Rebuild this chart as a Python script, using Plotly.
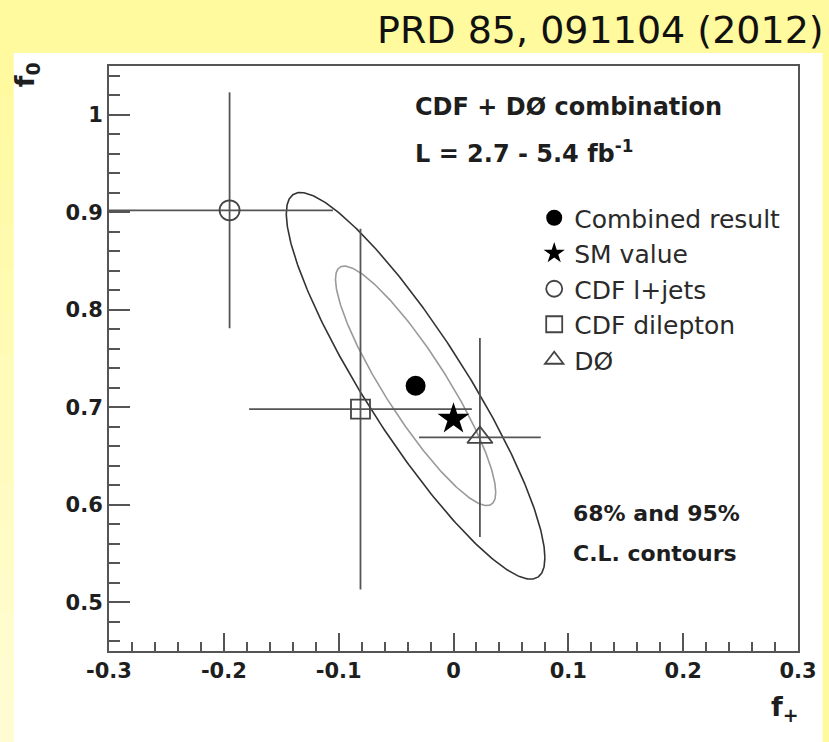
import numpy as np
import plotly.graph_objects as go

# ---------------- data ----------------
# combined result and its uncertainties / correlation
comb_fplus = [-0.033]
comb_f0 = [0.722]
comb_sig_fplus = 0.046
comb_sig_f0 = 0.081
comb_rho = -0.89
cl_labels = ["68%", "95%"]
cl_dchi2 = [2.30, 5.99]          # 2D delta-chi2 for 68% and 95% C.L.

sm_fplus = [0.0]
sm_f0 = [0.688]

ljets_fplus = [-0.195]
ljets_f0 = [0.902]
ljets_fplus_err_plus = [0.090]
ljets_fplus_err_minus = [0.120]
ljets_f0_err = [0.121]

dil_fplus = [-0.081]
dil_f0 = [0.698]
dil_fplus_err = [0.097]
dil_f0_err = [0.185]

d0_fplus = [0.023]
d0_f0 = [0.669]
d0_fplus_err = [0.053]
d0_f0_err = [0.102]

x_tickvals = [-0.3, -0.2, -0.1, 0.0, 0.1, 0.2, 0.3]
x_ticktext = ["-0.3", "-0.2", "-0.1", "0", "0.1", "0.2", "0.3"]
y_tickvals = [0.5, 0.6, 0.7, 0.8, 0.9, 1.0]
y_ticktext = ["0.5", "0.6", "0.7", "0.8", "0.9", "1"]

# ---------------- figure ----------------
W, H = 829, 742
L, R, T, B = 109, 20, 66, 91
pw, ph = W - L - R, H - T - B

def px_x(px):
    return (px - L) / pw

def px_y(py):
    return (H - B - py) / ph

FONT = "DejaVu Sans, Verdana, sans-serif"
INK = "#1e1e1e"
LINE = "#555555"

fig = go.Figure()

# confidence-level ellipses around the combined result
cov = np.array([[comb_sig_fplus**2, comb_rho * comb_sig_fplus * comb_sig_f0],
                [comb_rho * comb_sig_fplus * comb_sig_f0, comb_sig_f0**2]])
chol = np.linalg.cholesky(cov)
t = np.linspace(0, 2 * np.pi, 361)
circ = np.vstack([np.cos(t), np.sin(t)])
ell_colors = ["#9a9a9a", "#333333"]
for lab, q, col in zip(cl_labels, cl_dchi2, ell_colors):
    pts = chol @ circ * np.sqrt(q)
    fig.add_trace(go.Scatter(
        x=comb_fplus[0] + pts[0], y=comb_f0[0] + pts[1],
        mode="lines", line=dict(color=col, width=1.6),
        showlegend=False, hoverinfo="skip", name=lab + " C.L."))

err_line = dict(color=LINE, thickness=1.8, width=0)

fig.add_trace(go.Scatter(
    x=ljets_fplus, y=ljets_f0, mode="markers", name="CDF l+jets",
    legendgroup="c", legendrank=3,
    marker=dict(symbol="circle-open", size=20, color="#444444", line=dict(width=1.8, color="#444444")),
    error_x=dict(type="data", symmetric=False, array=ljets_fplus_err_plus,
                 arrayminus=ljets_fplus_err_minus, **err_line),
    error_y=dict(type="data", array=ljets_f0_err, **err_line)))

fig.add_trace(go.Scatter(
    x=dil_fplus, y=dil_f0, mode="markers", name="CDF dilepton",
    legendgroup="d", legendrank=4,
    marker=dict(symbol="square-open", size=19, color="#444444", line=dict(width=1.8, color="#444444")),
    error_x=dict(type="data", array=dil_fplus_err, **err_line),
    error_y=dict(type="data", array=dil_f0_err, **err_line)))

fig.add_trace(go.Scatter(
    x=d0_fplus, y=d0_f0, mode="markers", name="DØ",
    legendgroup="e", legendrank=5,
    marker=dict(symbol="triangle-up-open", size=22, color="#444444", line=dict(width=1.8, color="#444444")),
    error_x=dict(type="data", array=d0_fplus_err, **err_line),
    error_y=dict(type="data", array=d0_f0_err, **err_line)))

fig.add_trace(go.Scatter(
    x=comb_fplus, y=comb_f0, mode="markers", name="Combined result",
    legendgroup="a", legendrank=1,
    marker=dict(symbol="circle", size=20, color="#000000")))

fig.add_trace(go.Scatter(
    x=sm_fplus, y=sm_f0, mode="markers", name="SM value",
    legendgroup="b", legendrank=2,
    marker=dict(symbol="star", size=24, color="#000000")))

# ---------------- background panels ----------------
shapes = []
# white panel
shapes.append(dict(type="rect", xref="paper", yref="paper", layer="below",
                   x0=px_x(12), x1=px_x(W + 5), y0=px_y(53), y1=px_y(H + 5),
                   fillcolor="white", line=dict(width=0)))
# left yellow strip fading downward
nb = 16
top_c = np.array([255, 250, 158])
bot_c = np.array([255, 253, 214])
for i in range(nb):
    f = (i + 0.5) / nb
    c = (top_c * (1 - f) + bot_c * f).astype(int)
    y0p = 53 + (H - 53) * i / nb
    y1p = 53 + (H - 53) * (i + 1) / nb + 1
    shapes.append(dict(type="rect", xref="paper", yref="paper", layer="below",
                       x0=px_x(-2), x1=px_x(12), y0=px_y(y0p), y1=px_y(y1p),
                       fillcolor="rgb(%d,%d,%d)" % tuple(c), line=dict(width=0)))

annotations = [
    dict(text="PRD 85, 091104 (2012)", xref="paper", yref="paper",
         x=px_x(837), y=px_y(30), xanchor="right", yanchor="middle", showarrow=False,
         font=dict(family=FONT, size=38, color="#111111")),
    dict(text="<b>CDF + DØ combination</b>", xref="paper", yref="paper",
         x=px_x(418), y=px_y(107), xanchor="left", yanchor="middle", showarrow=False,
         font=dict(family=FONT, size=24, color=INK)),
    dict(text="<b>L = 2.7 - 5.4 fb<sup>-1</sup></b>", xref="paper", yref="paper",
         x=px_x(418), y=px_y(152), xanchor="left", yanchor="middle", showarrow=False,
         font=dict(family=FONT, size=24, color=INK)),
    dict(text="<b>68% and 95%</b>", xref="paper", yref="paper",
         x=px_x(578), y=px_y(513), xanchor="left", yanchor="middle", showarrow=False,
         font=dict(family=FONT, size=22, color=INK)),
    dict(text="<b>C.L. contours</b>", xref="paper", yref="paper",
         x=px_x(578), y=px_y(553), xanchor="left", yanchor="middle", showarrow=False,
         font=dict(family=FONT, size=22, color=INK)),
    dict(text="<b>f<sub>0</sub></b>", xref="paper", yref="paper", textangle=-90,
         x=px_x(26), y=px_y(75), xanchor="center", yanchor="middle", showarrow=False,
         font=dict(family=FONT, size=27, color=INK)),
    dict(text="<b>f<sub>+</sub></b>", xref="paper", yref="paper",
         x=px_x(796), y=px_y(708), xanchor="center", yanchor="middle", showarrow=False,
         font=dict(family=FONT, size=27, color=INK)),
]

axis_common = dict(showgrid=False, zeroline=False, showline=True, mirror=True,
                   linecolor=LINE, linewidth=2, ticks="inside", tickcolor=LINE,
                   tickwidth=2,
                   tickfont=dict(family=FONT, size=21, color=INK, weight="bold"))

fig.update_layout(
    width=W, height=H,
    margin=dict(l=L, r=R, t=T, b=B),
    paper_bgcolor="rgb(255,250,158)",
    plot_bgcolor="white",
    showlegend=True,
    legend=dict(x=px_x(541), y=px_y(195), xanchor="left", yanchor="top",
                bgcolor="rgba(0,0,0,0)", borderwidth=0,
                font=dict(family=FONT, size=25, color="#2a2a2a"),
                tracegroupgap=5, traceorder="normal"),
    xaxis=dict(range=[-0.3, 0.3], tickvals=x_tickvals, ticktext=x_ticktext,
               ticklen=18, minor=dict(dtick=0.02, ticklen=9, ticks="inside",
                                      tickcolor=LINE, tickwidth=2),
               **axis_common),
    yaxis=dict(range=[0.45, 1.05], tickvals=y_tickvals, ticktext=y_ticktext,
               ticklen=21, minor=dict(dtick=0.02, ticklen=11, ticks="inside",
                                      tickcolor=LINE, tickwidth=2),
               **axis_common),
    shapes=shapes,
    annotations=annotations,
)

fig.write_html("out.html")
